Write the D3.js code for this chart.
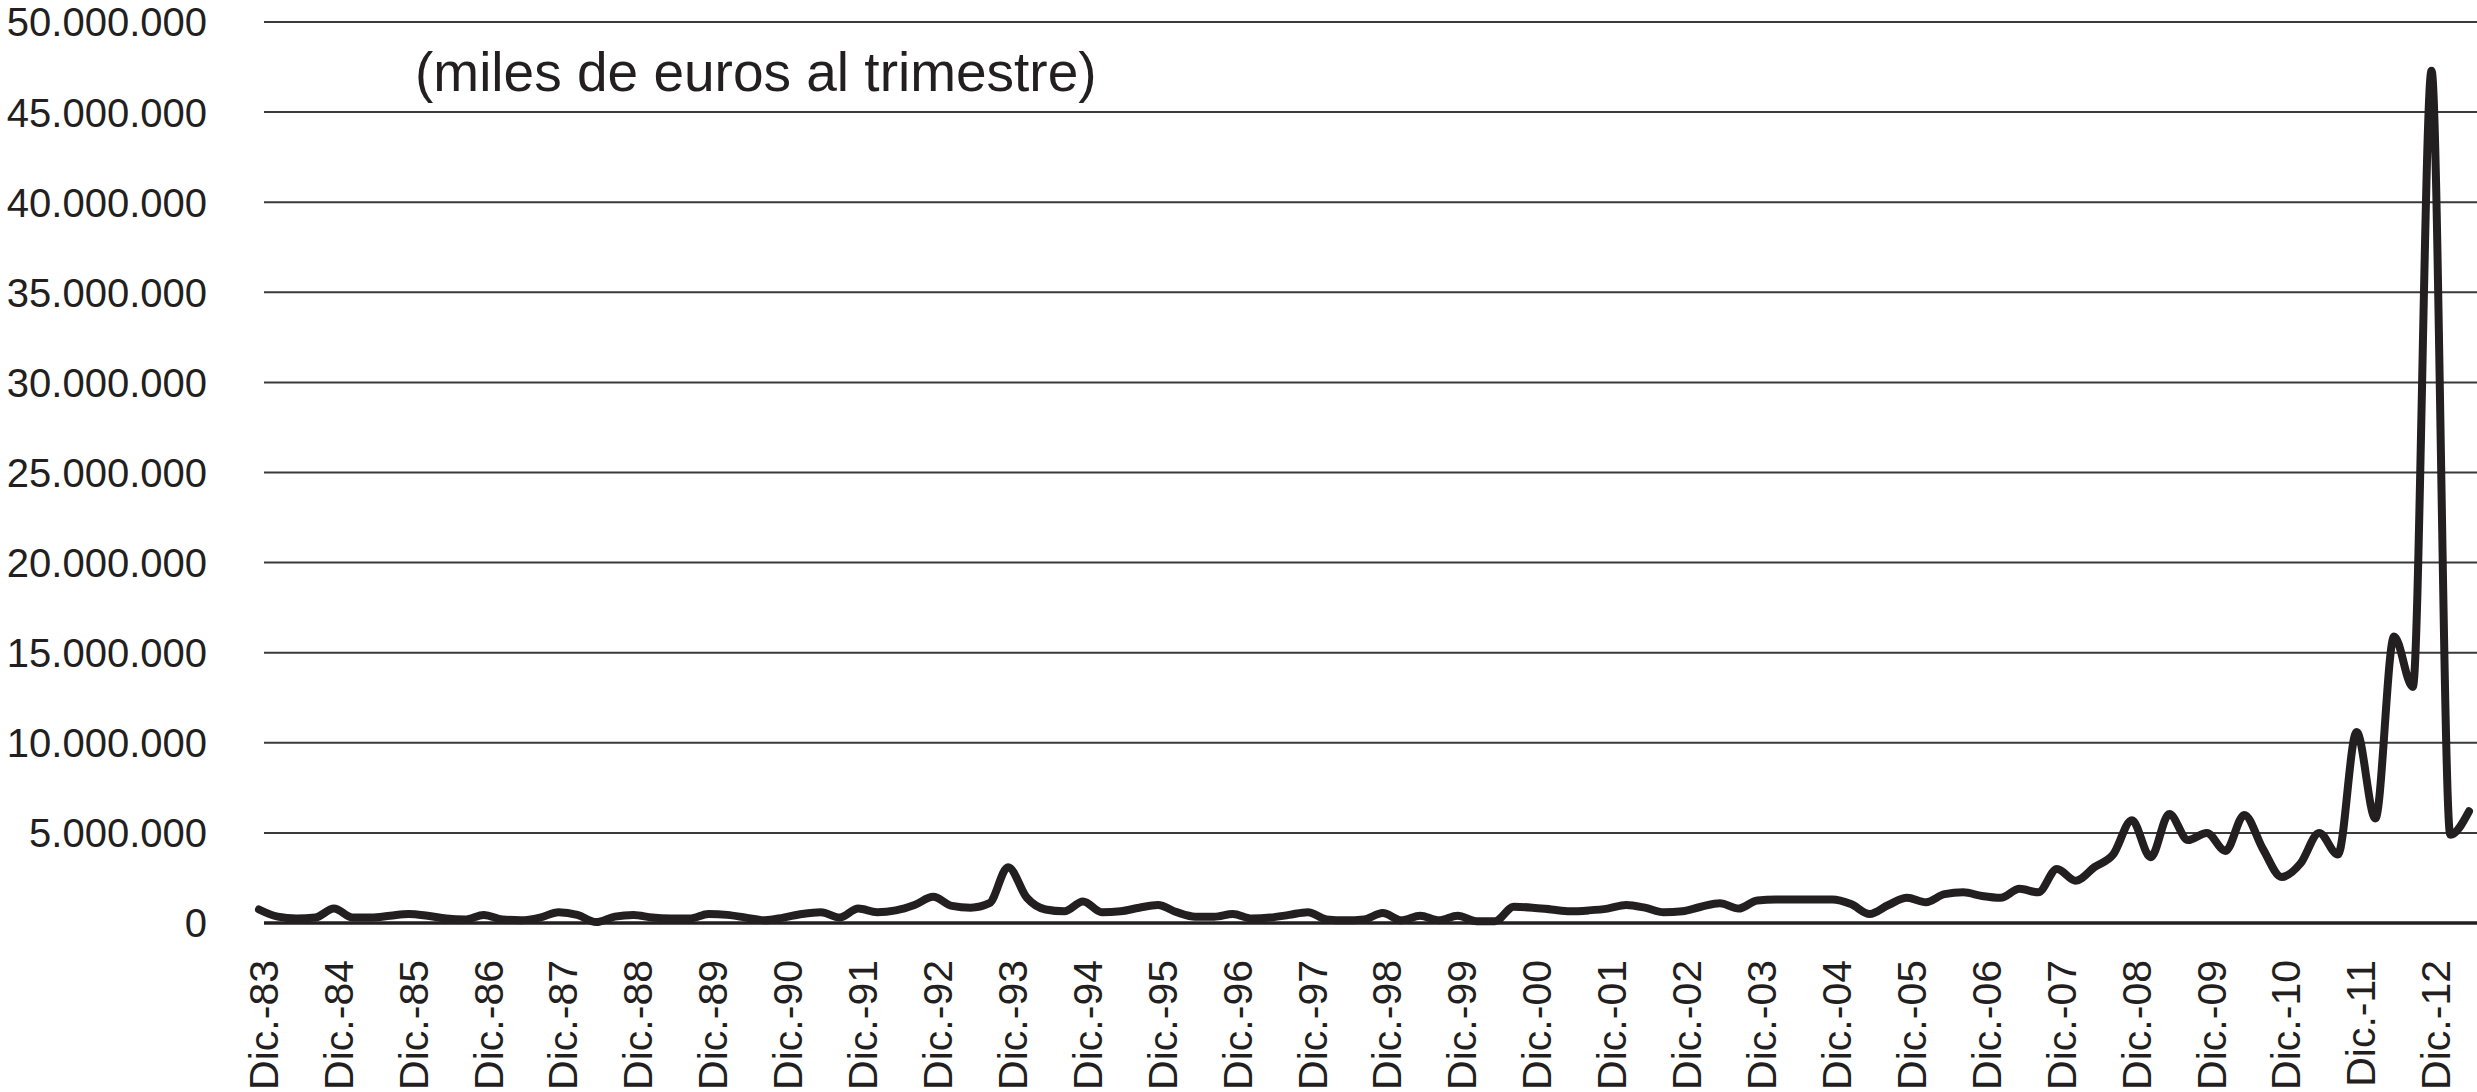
<!DOCTYPE html>
<html>
<head>
<meta charset="utf-8">
<script src="https://cdn.jsdelivr.net/npm/d3@7"></script>
<style>
    body { margin: 0; background: #fff; }
    text { font-family: "Liberation Sans", Arial, sans-serif; fill: #231f20; }
</style>
</head>
<body>
<div id="chart"></div>
<script>

// quarterly values, Dic.-83 .. Jun.-13 (in millions, scaled below)
var values = [
    0.75, 0.35, 0.25, 0.3, 0.8, 0.3, 0.3, 0.4, 0.5, 0.4, 0.25, 0.2,
    0.45, 0.2, 0.15, 0.3, 0.6, 0.45, 0.05, 0.35, 0.45, 0.3, 0.25, 0.25,
    0.5, 0.45, 0.3, 0.15, 0.3, 0.5, 0.6, 0.3, 0.8, 0.6, 0.7, 1.0,
    1.45, 0.95, 0.85, 1.1, 3.1, 1.4, 0.75, 0.65, 1.2, 0.6, 0.65, 0.85,
    1.0, 0.6, 0.35, 0.35, 0.5, 0.25, 0.3, 0.45, 0.6, 0.2, 0.15, 0.2,
    0.55, 0.15, 0.4, 0.15, 0.4, 0.1, 0.1, 0.9, 0.85, 0.75, 0.65, 0.7,
    0.8, 1.0, 0.85, 0.6, 0.65, 0.9, 1.1, 0.8, 1.25, 1.3, 1.3, 1.3,
    1.3, 1.05, 0.5, 1.0, 1.4, 1.15, 1.6, 1.7, 1.5, 1.4, 1.9, 1.7,
    3.0, 2.35, 3.1, 3.8, 5.7, 3.65, 6.05, 4.6, 5.0, 4.0, 6.0, 4.1,
    2.55, 3.3, 5.0, 3.8, 10.6, 5.8, 15.9, 13.1, 47.3, 4.9, 6.2
].map(function (v) { return v * 1000000; });

var tickLabels = ["Dic.-83", "Dic.-84", "Dic.-85", "Dic.-86", "Dic.-87", "Dic.-88",
    "Dic.-89", "Dic.-90", "Dic.-91", "Dic.-92", "Dic.-93", "Dic.-94", "Dic.-95",
    "Dic.-96", "Dic.-97", "Dic.-98", "Dic.-99", "Dic.-00", "Dic.-01", "Dic.-02",
    "Dic.-03", "Dic.-04", "Dic.-05", "Dic.-06", "Dic.-07", "Dic.-08", "Dic.-09",
    "Dic.-10", "Dic.-11", "Dic.-12"];

var yTicks = [0, 5000000, 10000000, 15000000, 20000000, 25000000,
    30000000, 35000000, 40000000, 45000000, 50000000];

var note = "(miles de euros al trimestre)";

var width = 2477, height = 1092;
var gridLeft = 264, gridRight = 2477;

var svg = d3.select("#chart").append("svg")
    .attr("width", width)
    .attr("height", height)
    .style("background", "white");

var x = d3.scalePoint()
    .domain(d3.range(values.length))
    .range([259, 2469]);

var y = d3.scaleLinear()
    .domain([0, 50000000])
    .range([923, 22]);

var fmt = function (v) {
    return v === 0 ? "0" : d3.format(",")(v).replace(/,/g, ".");
};

// horizontal grid
svg.append("g").selectAll("line")
    .data(yTicks)
    .enter().append("line")
    .attr("x1", gridLeft)
    .attr("x2", gridRight)
    .attr("y1", function (d) { return y(d); })
    .attr("y2", function (d) { return y(d); })
    .attr("stroke", function (d) { return d === 0 ? "#231f20" : "#3a3a3a"; })
    .attr("stroke-width", function (d) { return d === 0 ? 3.5 : 2; });

// y labels
svg.append("g").selectAll("text")
    .data(yTicks)
    .enter().append("text")
    .attr("x", 207)
    .attr("y", function (d) { return y(d); })
    .attr("dy", "0.36em")
    .attr("text-anchor", "end")
    .style("font-size", "40px")
    .text(fmt);

// x labels, every 4th quarter
svg.append("g").selectAll("text")
    .data(tickLabels)
    .enter().append("text")
    .attr("transform", function (d, i) {
        return "translate(" + (x(i * 4) + 4) + ",960) rotate(-90)";
    })
    .attr("dy", "0.36em")
    .attr("text-anchor", "end")
    .style("font-size", "41px")
    .text(function (d) { return d; });

var line = d3.line()
    .x(function (d, i) { return x(i); })
    .y(function (d) { return y(d); })
    .curve(d3.curveMonotoneX);

svg.append("path")
    .datum(values)
    .attr("d", line)
    .attr("fill", "none")
    .attr("stroke", "#231f20")
    .attr("stroke-width", 8)
    .attr("stroke-linejoin", "round")
    .attr("stroke-linecap", "round");

svg.append("text")
    .attr("x", 415)
    .attr("y", 91)
    .style("font-size", "55px")
    .text(note);

</script>
</body>
</html>
